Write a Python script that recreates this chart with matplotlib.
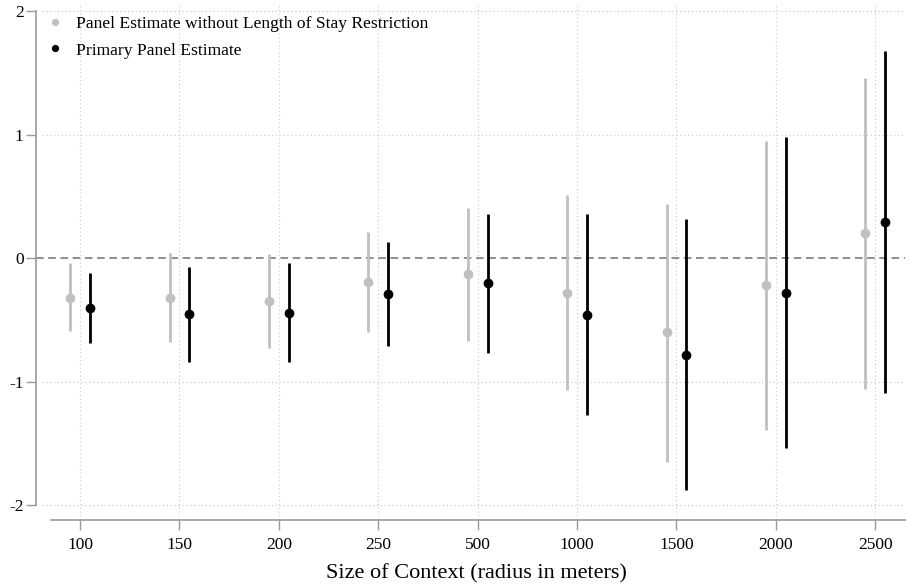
import matplotlib.pyplot as plt
import numpy as np

plt.rcParams['font.family'] = ['Liberation Serif', 'DejaVu Serif']

radii = ["100", "150", "200", "250", "500", "1000", "1500", "2000", "2500"]

# panel estimate without length-of-stay restriction
alt_est = [-0.32, -0.32, -0.35, -0.19, -0.13, -0.28, -0.60, -0.22, 0.20]
alt_lo = [-0.59, -0.68, -0.73, -0.60, -0.67, -1.07, -1.65, -1.39, -1.06]
alt_hi = [-0.04, 0.04, 0.03, 0.21, 0.41, 0.51, 0.44, 0.95, 1.46]

# primary panel estimate
main_est = [-0.40, -0.45, -0.44, -0.29, -0.20, -0.46, -0.78, -0.28, 0.29]
main_lo = [-0.69, -0.84, -0.84, -0.71, -0.77, -1.27, -1.88, -1.54, -1.09]
main_hi = [-0.12, -0.07, -0.04, 0.13, 0.36, 0.36, 0.32, 0.98, 1.68]

GRAY = "#c0c0c0"
AXCOL = "#9a9a9a"

fig = plt.figure(figsize=(9.1, 5.87), dpi=100)
ax = fig.add_axes([0.0396, 0.1141, 0.955, 0.8774])

x = np.arange(len(radii))
off = 0.1

# gridlines
for xi in x:
    ax.axvline(xi, color="#c8c8c8", lw=0.8, ls=(0, (1, 2.5)), zorder=0)
for yv in [-2, -1, 1, 2]:
    ax.axhline(yv, color="#c8c8c8", lw=0.8, ls=(0, (1, 2.5)), zorder=0,
               xmin=0.007)
ax.axhline(0, color="#707070", lw=1.1, ls=(0, (5, 3)), zorder=1)

ax.vlines(x - off, alt_lo, alt_hi, color=GRAY, lw=2.0, zorder=2)
ax.plot(x - off, alt_est, "o", color=GRAY, ms=6, zorder=3,
        label="Panel Estimate without Length of Stay Restriction")
ax.vlines(x + off, main_lo, main_hi, color="black", lw=2.0, zorder=2)
ax.plot(x + off, main_est, "o", color="black", ms=6, zorder=3,
        label="Primary Panel Estimate")

ax.set_xlim(-0.443, 8.30)
ax.set_ylim(-2.12, 2.05)

ax.set_xticks(x)
ax.set_xticklabels(radii)
ax.set_yticks([-2, -1, 0, 1, 2])
ax.set_yticklabels(["-2", "-1", "0", "1", "2"])

for s in ["top", "right"]:
    ax.spines[s].set_visible(False)
ax.spines["left"].set_bounds(-2, 2)
ax.spines["bottom"].set_bounds(-0.29, 8.30)
for s in ["left", "bottom"]:
    ax.spines[s].set_color(AXCOL)
    ax.spines[s].set_linewidth(1.2)

ax.tick_params(axis="both", colors=AXCOL, length=7, width=1.0,
               labelcolor="black", labelsize=12.5)
ax.tick_params(axis="y", pad=2)
ax.tick_params(axis="x", pad=5)

ax.set_xlabel("Size of Context (radius in meters)", fontsize=16)
ax.xaxis.set_label_coords(0.507, -0.085)

ax.legend(loc="upper left", frameon=False, fontsize=12.6, handletextpad=0.2,
          labelspacing=0.6, borderaxespad=0.0, bbox_to_anchor=(-0.006, 0.993),
          markerscale=0.7)

fig.savefig("out.png", dpi=100)
